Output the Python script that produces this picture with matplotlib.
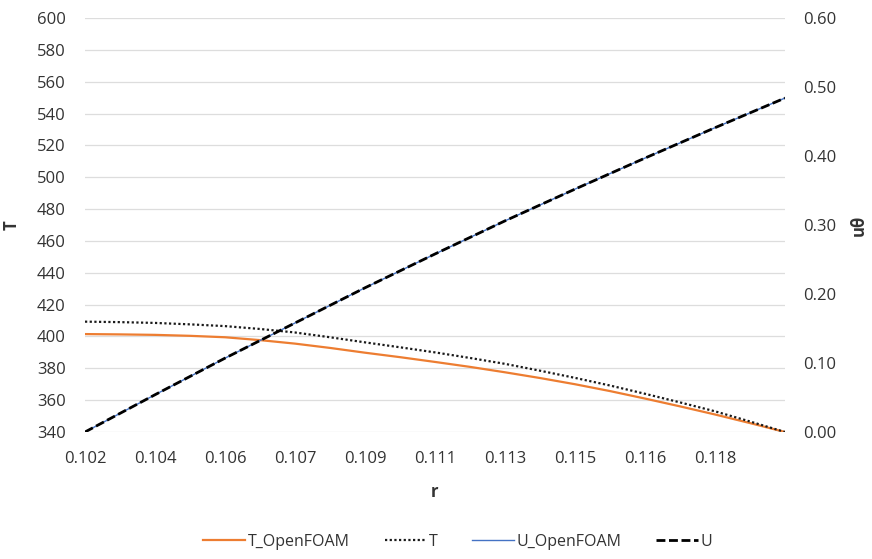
import numpy as np
import matplotlib
matplotlib.use("Agg")
import matplotlib.pyplot as plt
from matplotlib.lines import Line2D

plt.rcParams['font.family'] = ['Open Sans', 'DejaVu Sans']

# radius samples (m)
r = [0.1020, 0.1029, 0.1038, 0.1047, 0.1056, 0.1065, 0.1074, 0.1083, 0.1092,
     0.1101, 0.1110, 0.1119, 0.1128, 0.1137, 0.1146, 0.1155, 0.1164, 0.1173,
     0.1182, 0.1191, 0.1200]

T_openfoam = [401.5, 401.3, 401.0, 400.4, 399.5, 397.7, 395.5, 392.8, 389.8,
              387.0, 384.0, 380.9, 377.5, 373.9, 370.0, 365.7, 361.0, 356.1,
              351.0, 345.6, 340.0]
T_analytic = [409.3, 409.0, 408.5, 407.6, 406.5, 404.7, 402.5, 399.5, 396.3,
              393.2, 390.0, 386.5, 382.8, 378.5, 374.0, 369.2, 364.0, 358.6,
              353.0, 346.6, 340.0]
U_openfoam = [0.000, 0.027, 0.054, 0.0805, 0.107, 0.1325, 0.158, 0.1835, 0.209,
              0.2335, 0.258, 0.282, 0.306, 0.329, 0.352, 0.3745, 0.397, 0.419,
              0.441, 0.4625, 0.484]
U_analytic = list(U_openfoam)

x_tick_values = [0.1020, 0.1038, 0.1056, 0.1074, 0.1092, 0.1110, 0.1128,
                 0.1146, 0.1164, 0.1182]
x_tick_labels = ['0.102', '0.104', '0.106', '0.107', '0.109', '0.111',
                 '0.113', '0.115', '0.116', '0.118']
T_ticks = list(range(340, 601, 20))
U_ticks = [0.0, 0.1, 0.2, 0.3, 0.4, 0.5, 0.6]

W, H = 872, 559
fig = plt.figure(figsize=(W / 100, H / 100), dpi=100)
left, right, top, bottom = 85, 785, 18, 432
ax = fig.add_axes([left / W, 1 - bottom / H, (right - left) / W, (bottom - top) / H])
ax2 = ax.twinx()

orange = '#ED7D31'
blue = '#4472C4'
grid_c = '#DDDDDD'
text_c = '#333333'

ax.set_xlim(r[0], r[-1])
ax.set_ylim(340, 600)
ax2.set_ylim(0, 0.6)

ax.set_yticks(T_ticks)
ax.yaxis.grid(True, color=grid_c, linewidth=0.9)
ax.set_axisbelow(True)
ax.set_xticks(x_tick_values)
ax.set_xticklabels(x_tick_labels)
ax2.set_yticks(U_ticks)
ax2.set_yticklabels([f'{v:.2f}' for v in U_ticks])

for a in (ax, ax2):
    for s in a.spines.values():
        s.set_visible(False)
    a.tick_params(length=0, labelsize=12, labelcolor=text_c)
ax.tick_params(axis='y', pad=14)
ax.tick_params(axis='x', pad=14)
ax2.tick_params(axis='y', pad=13)

dot_style = (0, (1, 1.1))
dash_style = (0, (3.2, 1.3))

l1, = ax.plot(r, T_openfoam, color=orange, linewidth=1.6, zorder=3)
l2, = ax.plot(r, T_analytic, color='#1a1a1a', linewidth=1.6,
              linestyle=dot_style, zorder=4)
l3, = ax2.plot(r, U_openfoam, color=blue, linewidth=1.0, zorder=3)
l4, = ax2.plot(r, U_analytic, color='black', linewidth=2.0,
               linestyle=dash_style, zorder=4)

ax.set_ylabel('T', fontsize=12, fontweight='bold', color=text_c)
ax.yaxis.set_label_coords(-0.092, 0.5)
ax.set_xlabel('r', fontsize=12, fontweight='bold', color=text_c)
ax.xaxis.set_label_coords(0.5, -0.122)
ax2.set_ylabel('uθ', fontsize=12, fontweight='bold', color=text_c, rotation=90)
ax2.yaxis.set_label_coords(1.093, 0.5)

handles = [
    Line2D([], [], color=orange, linewidth=1.6),
    Line2D([], [], color='#1a1a1a', linewidth=1.6, linestyle=dot_style),
    Line2D([], [], color=blue, linewidth=1.0),
    Line2D([], [], color='black', linewidth=2.0, linestyle=dash_style),
]
fig.legend(handles, ['T_OpenFOAM', 'T', 'U_OpenFOAM', 'U'],
           loc='center', bbox_to_anchor=(0.525, 1 - 542 / H), ncol=4,
           frameon=False, fontsize=11.5, handlelength=2.6, handletextpad=0.15,
           columnspacing=2.2, labelcolor=text_c)

fig.savefig('out.png', dpi=100, facecolor='white')
